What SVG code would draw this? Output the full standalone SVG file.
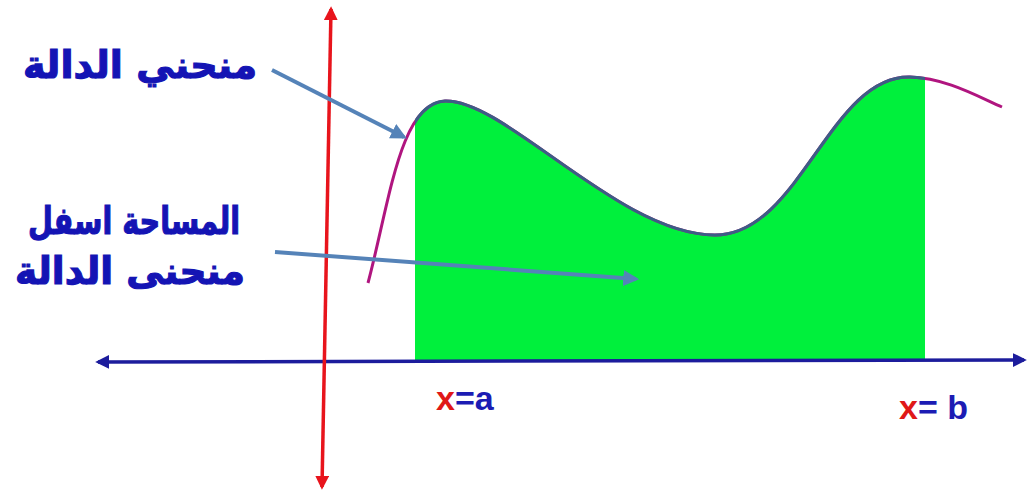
<svg xmlns="http://www.w3.org/2000/svg" width="1030" height="493" viewBox="0 0 1030 493">
<style>
.lbl{font-family:"DejaVu Sans",sans-serif;font-weight:bold;fill:#1414b4;stroke:#1414b4;stroke-width:1.2;font-size:38px}
.var{font-family:"Liberation Sans",Arial,sans-serif;font-weight:bold;font-size:34px}
.ptr{stroke:#5583b8;stroke-width:4;fill:none}
</style>
<defs>
<marker id="ah-red" viewBox="0 0 10 10" refX="8" refY="5" markerWidth="4" markerHeight="4" orient="auto-start-reverse"><path d="M0,0 L10,5 L0,10 Z" fill="#e8141c"/></marker>
<marker id="ah-blue" viewBox="0 0 10 10" refX="8" refY="5" markerWidth="4" markerHeight="4" orient="auto-start-reverse"><path d="M0,0 L10,5 L0,10 Z" fill="#1c1c9c"/></marker>
<marker id="ah-ptr" viewBox="0 0 10 10" refX="8" refY="5" markerWidth="4" markerHeight="4" orient="auto"><path d="M0,0 L10,5 L0,10 Z" fill="#5583b8"/></marker>
<path id="curve" d="M368,283 C390,200 400,103 445,101 C505,99 620,235 715,235 C800,235 830,75 910,77 C945,78 975,95 1002,107"/>
<clipPath id="ab"><rect x="415" y="0" width="510" height="360"/></clipPath>
</defs>
<rect width="1030" height="493" fill="#fff"/>
<g id="area">
<path d="M368,283 C390,200 400,103 445,101 C505,99 620,235 715,235 C800,235 830,75 910,77 C945,78 975,95 1002,107 L1002,360 L368,360 Z" fill="#00f03c" clip-path="url(#ab)"/>
</g>
<g id="function-curve">
<use href="#curve" fill="none" stroke="#b0157f" stroke-width="3"/>
<use href="#curve" fill="none" stroke="#3b5e86" stroke-width="3" clip-path="url(#ab)"/>
</g>
<g id="axes">
<line x1="98" y1="362" x2="1024" y2="360" stroke="#1c1c9c" stroke-width="3.5" marker-start="url(#ah-blue)" marker-end="url(#ah-blue)"/>
<line x1="331" y1="9" x2="322" y2="487" stroke="#e8141c" stroke-width="3.5" marker-start="url(#ah-red)" marker-end="url(#ah-red)"/>
</g>
<g id="connectors">
<line class="ptr" x1="272" y1="70" x2="404" y2="137" marker-end="url(#ah-ptr)"/>
<line class="ptr" x1="275" y1="252" x2="636" y2="279" marker-end="url(#ah-ptr)"/>
</g>
<g id="label-curve">
<text class="lbl" x="140" y="78" text-anchor="middle" direction="rtl" textLength="234" lengthAdjust="spacingAndGlyphs">منحني الدالة</text>
</g>
<g id="label-area">
<text class="lbl" x="134" y="234" text-anchor="middle" direction="rtl" textLength="212" lengthAdjust="spacingAndGlyphs">المساحة اسفل</text>
<text class="lbl" x="130" y="284" text-anchor="middle" direction="rtl" textLength="230" lengthAdjust="spacingAndGlyphs">منحنى الدالة</text>
</g>
<g id="label-a">
<text class="var" x="436" y="410"><tspan fill="#e01818">x</tspan><tspan fill="#1c1cb4">=a</tspan></text>
</g>
<g id="label-b">
<text class="var" x="899" y="419"><tspan fill="#e01818">x</tspan><tspan fill="#1c1cb4">= b</tspan></text>
</g>
</svg>
